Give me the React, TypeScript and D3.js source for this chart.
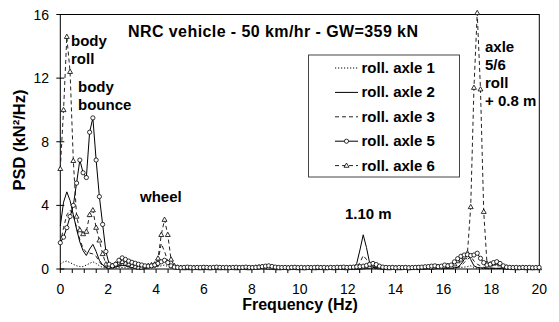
import React from "react";
import * as d3 from "d3";

// Sample grid of the spectra (Hz per bin)
const FREQ_STEP = 0.136;

// PSD of the roll signals, kN²/Hz, one value per frequency bin
const rollAxle1 = [
  0.3, 0.45, 0.5, 0.4, 0.3, 0.2, 0.15, 0.15, 0.25, 0.35,
  0.45, 0.35, 0.2, 0.1, 0.06, 0.05, 0.05, 0.06, 0.08, 0.1,
  0.08, 0.06, 0.05, 0.04, 0.04, 0.04, 0.05, 0.06, 0.08, 0.1,
  0.15, 0.2, 0.25, 0.15, 0.08, 0.04, 0.03, 0.02, 0.03, 0.02,
  0.03, 0.02, 0.03, 0.02, 0.03, 0.02, 0.03, 0.02, 0.03, 0.02,
  0.03, 0.02, 0.03, 0.02, 0.03, 0.02, 0.03, 0.02, 0.03, 0.02,
  0.03, 0.04, 0.05, 0.04, 0.03, 0.02, 0.03, 0.02, 0.03, 0.02,
  0.03, 0.02, 0.03, 0.02, 0.03, 0.02, 0.03, 0.02, 0.03, 0.02,
  0.03, 0.02, 0.03, 0.02, 0.03, 0.02, 0.03, 0.02, 0.03, 0.02,
  0.03, 0.06, 0.12, 0.2, 0.12, 0.05, 0.03, 0.02, 0.03, 0.02,
  0.03, 0.02, 0.03, 0.02, 0.03, 0.02, 0.03, 0.02, 0.03, 0.02,
  0.03, 0.02, 0.03, 0.02, 0.03, 0.03, 0.03, 0.03, 0.04, 0.03,
  0.04, 0.05, 0.08, 0.1, 0.12, 0.15, 0.2, 0.1, 0.05, 0.04,
  0.03, 0.02, 0.03, 0.02, 0.03, 0.02, 0.03, 0.02, 0.03, 0.02,
  0.03, 0.02, 0.03, 0.02, 0.03, 0.02, 0.03, 0.02,
];

const rollAxle2 = [
  2.7, 4.2, 4.85, 4.3, 3.4, 2.5, 1.7, 1.15, 0.85, 1.25,
  1.55, 1.1, 0.55, 0.25, 0.12, 0.08, 0.1, 0.12, 0.18, 0.22,
  0.2, 0.15, 0.12, 0.1, 0.08, 0.07, 0.08, 0.1, 0.12, 0.15,
  0.2, 0.45, 0.55, 0.4, 0.15, 0.08, 0.05, 0.04, 0.03, 0.04,
  0.03, 0.04, 0.03, 0.04, 0.03, 0.04, 0.03, 0.04, 0.03, 0.04,
  0.03, 0.04, 0.03, 0.04, 0.03, 0.04, 0.03, 0.04, 0.03, 0.04,
  0.04, 0.05, 0.06, 0.05, 0.04, 0.03, 0.04, 0.03, 0.04, 0.03,
  0.04, 0.03, 0.04, 0.03, 0.04, 0.03, 0.04, 0.03, 0.04, 0.03,
  0.04, 0.03, 0.04, 0.03, 0.04, 0.03, 0.04, 0.05, 0.05, 0.06,
  0.08, 0.35, 1.2, 2.15, 1.35, 0.35, 0.1, 0.05, 0.04, 0.03,
  0.04, 0.03, 0.04, 0.03, 0.04, 0.03, 0.04, 0.03, 0.04, 0.03,
  0.04, 0.03, 0.04, 0.04, 0.05, 0.05, 0.04, 0.05, 0.06, 0.05,
  0.06, 0.08, 0.1, 0.3, 0.6, 0.95, 0.6, 0.2, 0.1, 0.08,
  0.06, 0.05, 0.06, 0.05, 0.04, 0.05, 0.04, 0.03, 0.04, 0.03,
  0.04, 0.03, 0.04, 0.03, 0.04, 0.03, 0.04, 0.03,
];

const rollAxle3 = [
  1.6, 2.6, 3.4, 3.7, 3.4, 2.6, 1.85, 1.3, 1.05, 1.0,
  0.95, 0.8, 0.45, 0.2, 0.1, 0.08, 0.1, 0.15, 0.2, 0.25,
  0.22, 0.18, 0.12, 0.1, 0.08, 0.07, 0.08, 0.1, 0.15, 0.3,
  0.5, 1.6, 1.1, 0.5, 0.15, 0.06, 0.04, 0.03, 0.04, 0.03,
  0.04, 0.03, 0.04, 0.03, 0.04, 0.03, 0.04, 0.03, 0.04, 0.03,
  0.04, 0.03, 0.04, 0.03, 0.04, 0.03, 0.04, 0.03, 0.04, 0.03,
  0.04, 0.05, 0.06, 0.05, 0.04, 0.03, 0.04, 0.03, 0.04, 0.03,
  0.04, 0.03, 0.04, 0.03, 0.04, 0.03, 0.04, 0.03, 0.04, 0.03,
  0.04, 0.03, 0.04, 0.03, 0.04, 0.03, 0.04, 0.03, 0.04, 0.05,
  0.06, 0.15, 0.4, 0.85, 0.6, 0.2, 0.08, 0.05, 0.04, 0.03,
  0.04, 0.03, 0.04, 0.03, 0.04, 0.03, 0.04, 0.03, 0.04, 0.03,
  0.04, 0.03, 0.04, 0.04, 0.05, 0.05, 0.04, 0.05, 0.05, 0.05,
  0.06, 0.08, 0.12, 0.2, 0.4, 0.6, 0.8, 0.5, 0.3, 0.2,
  0.1, 0.06, 0.05, 0.04, 0.04, 0.03, 0.04, 0.03, 0.04, 0.03,
  0.04, 0.03, 0.04, 0.03, 0.04, 0.03, 0.04, 0.03,
];

const rollAxle5 = [
  1.65, 2.0, 2.6, 3.3, 4.0, 5.4, 6.85, 6.05, 5.75, 8.6,
  9.5, 6.85, 4.55, 2.8, 1.1, 0.3, 0.2, 0.3, 0.55, 0.7,
  0.6, 0.5, 0.42, 0.36, 0.3, 0.25, 0.2, 0.18, 0.2, 0.25,
  0.35, 0.45, 0.55, 0.4, 0.2, 0.12, 0.1, 0.08, 0.1, 0.12,
  0.1, 0.08, 0.1, 0.09, 0.11, 0.1, 0.08, 0.1, 0.12, 0.1,
  0.09, 0.1, 0.08, 0.1, 0.11, 0.09, 0.1, 0.12, 0.1, 0.09,
  0.1, 0.12, 0.15, 0.18, 0.2, 0.16, 0.12, 0.1, 0.09, 0.1,
  0.08, 0.1, 0.11, 0.09, 0.1, 0.08, 0.1, 0.09, 0.1, 0.11,
  0.09, 0.1, 0.08, 0.1, 0.09, 0.11, 0.1, 0.12, 0.1, 0.11,
  0.12, 0.14, 0.15, 0.18, 0.22, 0.3, 0.35, 0.28, 0.18, 0.12,
  0.1, 0.09, 0.1, 0.08, 0.1, 0.09, 0.1, 0.08, 0.09, 0.1,
  0.11, 0.12, 0.14, 0.15, 0.18, 0.2, 0.15, 0.18, 0.25, 0.2,
  0.25, 0.45, 0.65, 0.8, 0.88, 0.9, 0.85, 0.88, 0.99, 0.67,
  0.4, 0.25, 0.3, 0.4, 0.46, 0.35, 0.2, 0.12, 0.1, 0.09,
  0.1, 0.08, 0.1, 0.09, 0.1, 0.08, 0.09, 0.1,
];

const rollAxle6 = [
  6.3, 10.0, 14.6, 12.4, 6.8, 3.3, 2.45, 2.2, 2.35, 3.4,
  3.7, 2.6, 1.8, 0.95, 0.3, 0.15, 0.2, 0.3, 0.4, 0.45,
  0.35, 0.3, 0.2, 0.15, 0.1, 0.1, 0.15, 0.2, 0.25, 0.3,
  0.67, 2.15, 3.1, 2.15, 0.6, 0.2, 0.1, 0.08, 0.06, 0.07,
  0.06, 0.08, 0.07, 0.06, 0.08, 0.07, 0.06, 0.07, 0.08, 0.06,
  0.07, 0.06, 0.08, 0.07, 0.06, 0.07, 0.08, 0.07, 0.06, 0.08,
  0.1, 0.12, 0.15, 0.12, 0.1, 0.08, 0.07, 0.06, 0.07, 0.08,
  0.06, 0.07, 0.08, 0.06, 0.07, 0.06, 0.08, 0.07, 0.06, 0.07,
  0.08, 0.06, 0.07, 0.08, 0.06, 0.07, 0.08, 0.07, 0.06, 0.08,
  0.07, 0.08, 0.1, 0.12, 0.14, 0.15, 0.25, 0.2, 0.12, 0.08,
  0.07, 0.06, 0.08, 0.07, 0.06, 0.07, 0.08, 0.06, 0.07, 0.08,
  0.07, 0.08, 0.1, 0.12, 0.1, 0.12, 0.15, 0.12, 0.15, 0.2,
  0.15, 0.3, 0.5, 0.6, 0.75, 1.0, 3.9, 11.4, 16.1, 11.3,
  3.6, 0.35, 0.3, 0.35, 0.4, 0.3, 0.15, 0.1, 0.08, 0.07,
  0.06, 0.07, 0.08, 0.06, 0.07, 0.06, 0.07, 0.06,
];

const xTicks = [0, 2, 4, 6, 8, 10, 12, 14, 16, 18, 20];
const yTicks = [0, 4, 8, 12, 16];

const seriesNames = ["roll. axle 1", "roll. axle 2", "roll. axle 3", "roll. axle 5", "roll. axle 6"];

const titleText = "NRC vehicle - 50 km/hr - GW=359 kN";

const FONT = "'Liberation Sans', Arial, Helvetica, sans-serif";

type Style = { dash: string; marker: "none" | "circle" | "triangle"; width: number; color: string };

const styles: Style[] = [
  { dash: "1.2,1.8", marker: "none", width: 1, color: "#000" },
  { dash: "", marker: "none", width: 1, color: "#000" },
  { dash: "4,3", marker: "none", width: 1, color: "#222" },
  { dash: "", marker: "circle", width: 1, color: "#000" },
  { dash: "4,3", marker: "triangle", width: 1, color: "#222" },
];

const W = 559;
const H = 322;
const margin = { left: 60.3, right: 539.3, top: 14.5, bottom: 269 };

function Marker({ kind, x, y }: { kind: Style["marker"]; x: number; y: number }) {
  if (kind === "circle") {
    return <circle cx={x} cy={y} r={2.1} fill="#fff" stroke="#000" strokeWidth={0.8} />;
  }
  if (kind === "triangle") {
    const s = 2.6;
    return (
      <path
        d={`M${x},${y - s} L${x + s * 0.95},${y + s * 0.65} L${x - s * 0.95},${y + s * 0.65} Z`}
        fill="#fff"
        stroke="#000"
        strokeWidth={0.8}
      />
    );
  }
  return null;
}

export default function App() {
  const allSeries = [rollAxle1, rollAxle2, rollAxle3, rollAxle5, rollAxle6];
  const freqs = d3.range(rollAxle1.length).map((i) => i * FREQ_STEP);

  const x = d3.scaleLinear().domain([0, 20]).range([margin.left, margin.right]);
  const y = d3.scaleLinear().domain([0, 16]).range([margin.bottom, margin.top]);

  const line = d3
    .line<number>()
    .x((_, i) => x(freqs[i]))
    .y((d) => y(d));

  const minorX = d3.range(0, 20.01, 0.5);

  // draw order: markers of circle / triangle series on top
  const order = [0, 2, 1, 4, 3];

  const legendTop = 68;
  const legendStep = 24.4;

  return (
    <svg
      width={W}
      height={H}
      style={{ position: "absolute", left: 0, top: 0, background: "#fff" }}
      fontFamily={FONT}
    >
      <rect x={0} y={0} width={W} height={H} fill="#fff" />

      {/* plot frame */}
      <rect
        x={margin.left}
        y={margin.top}
        width={margin.right - margin.left}
        height={margin.bottom - margin.top}
        fill="none"
        stroke="#000"
        strokeWidth={1}
      />

      {/* x ticks */}
      {minorX.map((v) => (
        <line key={`xt${v}`} x1={x(v)} x2={x(v)} y1={margin.bottom} y2={margin.bottom + 4} stroke="#000" strokeWidth={1} />
      ))}
      {xTicks.map((v) => (
        <text key={`xl${v}`} x={x(v)} y={294} textAnchor="middle" fontSize={14} fill="#000">
          {v}
        </text>
      ))}

      {/* y ticks */}
      {yTicks.map((v) => (
        <g key={`yt${v}`}>
          <line x1={margin.left - 4} x2={margin.left + 4} y1={y(v)} y2={y(v)} stroke="#000" strokeWidth={1} />
          <text x={49} y={y(v) + 5} textAnchor="end" fontSize={14} fill="#000">
            {v}
          </text>
        </g>
      ))}

      {/* axis titles */}
      <text x={300} y={310} textAnchor="middle" fontSize={16} fontWeight="bold" fill="#000">
        Frequency (Hz)
      </text>
      <text
        transform={`translate(25,140) rotate(-90)`}
        textAnchor="middle"
        fontSize={16.5}
        fontWeight="bold"
        fill="#000"
      >
        PSD (kN²/Hz)
      </text>

      {/* chart title */}
      <text x={128} y={37} fontSize={16} fontWeight="bold" fill="#000" textLength={290} lengthAdjust="spacing">
        {titleText}
      </text>

      {/* legend */}
      <rect x={308.5} y={55} width={151} height={122} fill="#fff" stroke="#444" strokeWidth={1} />
      {seriesNames.map((name, k) => {
        const cy = legendTop + k * legendStep;
        const st = styles[k];
        return (
          <g key={name}>
            <line
              x1={335}
              x2={358}
              y1={cy}
              y2={cy}
              stroke={st.color}
              strokeWidth={st.width}
              strokeDasharray={st.dash || undefined}
            />
            <Marker kind={st.marker} x={346.5} y={cy} />
            <text x={361.5} y={cy + 5} fontSize={15} fontWeight="bold" fill="#000">
              {name}
            </text>
          </g>
        );
      })}

      {/* spectra */}
      {order.map((k) => {
        const data = allSeries[k];
        const st = styles[k];
        return (
          <g key={`s${k}`}>
            <path
              d={line(data) ?? ""}
              fill="none"
              stroke={st.color}
              strokeWidth={st.width}
              strokeDasharray={st.dash || undefined}
            />
            {st.marker !== "none" &&
              data.map((v, i) => <Marker key={i} kind={st.marker} x={x(freqs[i])} y={y(v)} />)}
          </g>
        );
      })}

      {/* peak annotations */}
      <g fontSize={15} fontWeight="bold" fill="#000">
        <text x={71} y={46}>body</text>
        <text x={71} y={64}>roll</text>
        <text x={78} y={92}>body</text>
        <text x={78} y={110}>bounce</text>
        <text x={140} y={201.5}>wheel</text>
        <text x={345} y={219}>1.10 m</text>
        <text x={485} y={52}>axle</text>
        <text x={485} y={70}>5/6</text>
        <text x={485} y={88}>roll</text>
        <text x={485} y={106}>+ 0.8 m</text>
      </g>
    </svg>
  );
}
